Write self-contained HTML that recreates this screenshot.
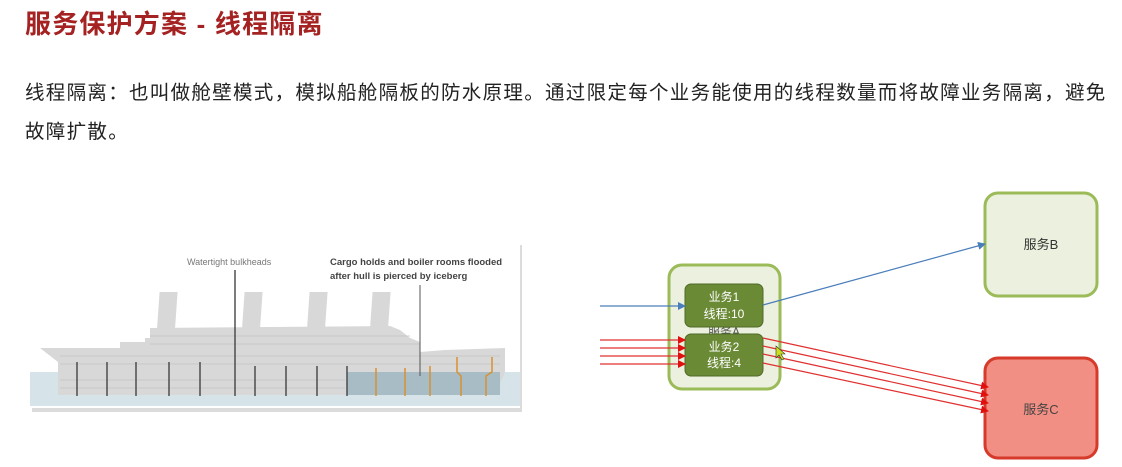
<!DOCTYPE html>
<html><head><meta charset="utf-8"><style>
body{margin:0;width:1122px;height:467px;background:#fff;overflow:hidden;position:relative;font-family:"Liberation Sans","Noto Sans CJK SC",sans-serif}
.t{position:absolute;left:25px;top:4px;font-size:26px;font-weight:bold;color:#a52222;letter-spacing:1.2px}
.p{position:absolute;left:25px;top:74px;font-size:19.5px;line-height:39px;color:#222;width:1100px;letter-spacing:1.3px}
svg{position:absolute;left:0;top:0}
</style></head><body>
<div class="t">服务保护方案 - 线程隔离</div>
<div class="p">线程隔离：也叫做舱壁模式，模拟船舱隔板的防水原理。通过限定每个业务能使用的线程数量而将故障业务隔离，避免<br>故障扩散。</div>
<svg width="1122" height="467" viewBox="0 0 1122 467">
<defs>
<marker id="ab" markerWidth="8" markerHeight="8" refX="7" refY="4" orient="auto" markerUnits="userSpaceOnUse"><path d="M0,0 L8,4 L0,8z" fill="#4a7ebb"/></marker>
<marker id="ar" markerWidth="8" markerHeight="8" refX="7" refY="4" orient="auto" markerUnits="userSpaceOnUse"><path d="M0,0 L8,4 L0,8z" fill="#e01010"/></marker>
</defs>
<rect x="32" y="245" width="490" height="167" fill="#999" opacity="0.35"/>
<rect x="30" y="243" width="490" height="165" fill="#fff"/>
<rect x="30" y="372" width="490" height="34" fill="#d6e4ea"/>
<g fill="#d8d8d8">
<rect x="180" y="292" width="18" height="40" transform="skewX(-4)"/>
<rect x="265" y="292" width="18" height="40" transform="skewX(-4)"/>
<rect x="330" y="292" width="18" height="40" transform="skewX(-4)"/>
<rect x="393" y="292" width="18" height="40" transform="skewX(-4)"/>
<path d="M40,348 L120,348 L120,342 L145,342 L145,338 L150,338 L150,328 L390,326 L400,330 L410,338 L420,342 L420,352 L445,350 L505,348 L505,372 L495,395 L58,395 L58,362 Z"/>
</g>
<g stroke="#c4c4c4" stroke-width="0.8" fill="none">
<path d="M60,356 H500 M60,364 H500 M150,336 H410 M150,344 H420 M60,380 H345 M60,388 H345"/>
</g>
<rect x="347" y="372" width="153" height="23" fill="#a8bcc5"/>
<g stroke="#444" stroke-width="1.4">
<line x1="77" y1="362" x2="77" y2="396"/><line x1="107" y1="362" x2="107" y2="396"/><line x1="136" y1="362" x2="136" y2="396"/><line x1="169" y1="362" x2="169" y2="396"/><line x1="200" y1="362" x2="200" y2="396"/><line x1="235" y1="270" x2="235" y2="396"/><line x1="255" y1="366" x2="255" y2="396"/><line x1="286" y1="366" x2="286" y2="396"/><line x1="317" y1="366" x2="317" y2="396"/><line x1="347" y1="366" x2="347" y2="396"/>
</g>
<line x1="420" y1="285" x2="420" y2="376" stroke="#555" stroke-width="1"/>
<g stroke="#d89030" stroke-width="1.5" fill="none">
<line x1="376" y1="368" x2="376" y2="396"/><line x1="405" y1="368" x2="405" y2="396"/><line x1="430" y1="366" x2="430" y2="396"/>
<path d="M457,357 V372 L461,376 V396"/><path d="M492,357 V372 L486,376 V396"/>
</g>
<text x="187" y="265" font-size="9" fill="#777" font-family="Liberation Sans,sans-serif">Watertight bulkheads</text>
<text x="330" y="265" font-size="9.5" font-weight="bold" fill="#444" font-family="Liberation Sans,sans-serif">Cargo holds and boiler rooms flooded</text>
<text x="330" y="279" font-size="9.5" font-weight="bold" fill="#444" font-family="Liberation Sans,sans-serif">after hull is pierced by iceberg</text>
<rect x="669" y="265" width="111" height="124" rx="13" fill="#ebf1de" stroke="#9bbb59" stroke-width="3"/>
<text x="724" y="336" font-size="12" fill="#555" text-anchor="middle">服务A</text>
<rect x="985" y="193" width="112" height="103" rx="13" fill="#ebf1de" stroke="#9bbb59" stroke-width="3"/>
<text x="1041" y="249" font-size="13" fill="#333" text-anchor="middle">服务B</text>
<rect x="985" y="358" width="112" height="100" rx="13" fill="#f28f84" stroke="#d63a2a" stroke-width="3"/>
<text x="1041" y="414" font-size="13" fill="#444" text-anchor="middle">服务C</text>
<rect x="685" y="284" width="78" height="43" rx="6" fill="#6b8a36" stroke="#4f6a26"/>
<text x="724" y="301" font-size="12" fill="#fff" text-anchor="middle">业务1</text>
<text x="724" y="318" font-size="12" fill="#fff" text-anchor="middle">线程:10</text>
<rect x="685" y="334" width="78" height="42" rx="6" fill="#6b8a36" stroke="#4f6a26"/>
<text x="724" y="351" font-size="12" fill="#fff" text-anchor="middle">业务2</text>
<text x="724" y="367" font-size="12" fill="#fff" text-anchor="middle">线程:4</text>
<line x1="600" y1="306" x2="685" y2="306" stroke="#4a7ebb" stroke-width="1.2" marker-end="url(#ab)"/>
<line x1="763" y1="305" x2="985" y2="244" stroke="#4a7ebb" stroke-width="1.2" marker-end="url(#ab)"/>
<g stroke="#e03030" stroke-width="1.2">
<line x1="600" y1="340" x2="685" y2="340" marker-end="url(#ar)"/>
<line x1="600" y1="348" x2="685" y2="348" marker-end="url(#ar)"/>
<line x1="600" y1="356" x2="685" y2="356" marker-end="url(#ar)"/>
<line x1="600" y1="364" x2="685" y2="364" marker-end="url(#ar)"/>
<line x1="763" y1="338" x2="988" y2="387" marker-end="url(#ar)"/>
<line x1="763" y1="346" x2="988" y2="395" marker-end="url(#ar)"/>
<line x1="763" y1="354" x2="988" y2="403" marker-end="url(#ar)"/>
<line x1="763" y1="363" x2="988" y2="411" marker-end="url(#ar)"/>
</g>
<path d="M776,346 L776,358 L779,355 L782,360 L784,359 L781,354 L785,354 Z" fill="#c8e020" stroke="#333" stroke-width="0.6"/>
</svg>
</body></html>
